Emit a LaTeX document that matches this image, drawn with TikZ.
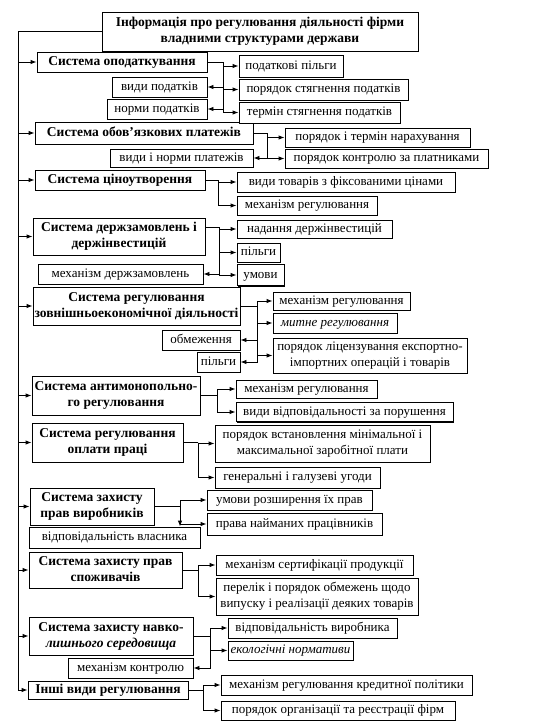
\documentclass[tikz,border=0pt]{standalone}
\usepackage{fontspec}
\setmainfont{Liberation Serif}
\usetikzlibrary{arrows.meta, shadows}

\begin{document}
\begin{tikzpicture}[
  x=1pt, y=-1pt,
  sz/.style 2 args={minimum width=#1pt, minimum height=#2pt},
  box/.style={rectangle, draw=black, line width=0.9pt, fill=white,
             inner sep=1pt, align=center, text height=8pt, text depth=2pt,
             font=\fontsize{13}{15.5}\selectfont,
             drop shadow={shadow xshift=1.2pt, shadow yshift=-1.2pt, fill=black, opacity=1}},
  sysbox/.style={box, font=\bfseries\fontsize{13.5}{16}\selectfont},
  itembox/.style={box},
  systwo/.style={sysbox, text height=24pt},
  itemtwo/.style={itembox, text height=23.5pt},
  link/.style={line width=0.9pt},
  arr/.style={link, -{Latex[length=6pt, width=4.5pt]}}
]
\fill[white] (0,0) rectangle (533,724);
\useasboundingbox (0,0) rectangle (533,724);

% main box and the systems
\node[systwo, sz={316}{39}] (title) at (260,31.5)
  {Інформація про регулювання діяльності фірми\\владними структурами держави};
\node[sysbox, sz={170}{20}] (s1) at (122,62) {Система оподаткування};
\node[sysbox, sz={218}{22}] (s2) at (144,133) {Система обов’язкових платежів};
\node[sysbox, sz={170}{20}] (s3) at (120,180) {Система ціноутворення};
\node[systwo, sz={172}{37}] (s4) at (119,236.5) {Система держзамовлень і\\держінвестицій};
\node[systwo, sz={207}{38}] (s5) at (136.5,306) {Система регулювання\\зовнішньоекономічної діяльності};
\node[systwo, sz={168}{39}] (s6) at (116,395.5) {Система антимонопольно-\\го регулювання};
\node[systwo, sz={151}{39}] (s7) at (107.5,442.5) {Система регулювання\\оплати праці};
\node[systwo, sz={124}{37}] (s8) at (92,506.5) {Система захисту\\прав виробників};
\node[systwo, sz={153}{36}] (s9) at (105.5,570) {Система захисту прав\\споживачів};
\node[systwo, sz={164}{38}] (s10) at (111,636) {Система захисту навко-\\\textit{лишнього середовища}};
\node[sysbox, sz={160}{18}] (s11) at (108,690) {Інші види регулювання};

% spine on the left
\coordinate (spine) at (18,0);
\draw[link] (title.west) -| (spine |- s11.west);
\foreach \s in {s1,s2,s3,s4,s5,s6,s7,s8,s9,s10,s11}
  \draw[arr] (spine |- \s.west) -- (\s.west);

% taxes
\node[itembox, sz={104}{22}] (tax1) at (291,66) {податкові пільги};
\node[itembox, sz={169}{21}] (tax2) at (323.5,89.5) {порядок стягнення податків};
\node[itembox, sz={161}{21}] (tax3) at (319.5,112.5) {термін стягнення податків};
\node[itembox, sz={95}{20}] (tax4) at (159.5,87) {види податків};
\node[itembox, sz={100}{20}] (tax5) at (157,109) {норми податків};
\coordinate (j1) at (223,62);
\draw[link] (s1.east) -- (j1);
\foreach \t in {tax1,tax2,tax3} \draw[arr] (j1) |- (\t.west);
\foreach \t in {tax4,tax5} \draw[arr] (j1) |- (\t.east);

% payments
\node[itembox, sz={185}{19}] (pay1) at (377.5,137.5) {порядок і термін нарахування};
\node[itembox, sz={203}{19}] (pay2) at (386.5,158.5) {порядок контролю за платниками};
\node[itembox, sz={143}{18}] (pay3) at (181.5,158) {види і норми платежів};
\coordinate (j2) at (267,133);
\draw[link] (s2.east) -- (j2);
\foreach \t in {pay1,pay2} \draw[arr] (j2) |- (\t.west);
\draw[arr] (j2) |- (pay3.east);

% prices
\node[itembox, sz={218}{20}] (pr1) at (346,182) {види товарів з фіксованими цінами};
\node[itembox, sz={140}{19}] (pr2) at (307,205.5) {механізм регулювання};
\coordinate (j3) at (218,180);
\draw[link] (s3.east) -- (j3);
\foreach \t in {pr1,pr2} \draw[arr] (j3) |- (\t.west);

% state orders
\node[itembox, sz={155}{18}] (ord1) at (314.5,229) {надання держінвестицій};
\node[itembox, sz={43}{19}] (ord2) at (258.5,252.5) {пільги};
\node[itembox, sz={47}{21}] (ord3) at (260.5,275) {умови};
\node[itembox, sz={165}{20}] (ord4) at (120.5,274) {механізм держзамовлень};
\coordinate (j4) at (219,227);
\draw[link] (s4.east |- j4) -- (j4);
\foreach \t in {ord1,ord2,ord3} \draw[arr] (j4) |- (\t.west);
\draw[arr] (j4) |- (ord4.east);

% foreign trade
\node[itembox, sz={137}{18}] (fe1) at (341.5,301) {механізм регулювання};
\node[itembox, sz={124}{20}] (fe2) at (335,323) {\textit{митне регулювання}};
\node[itemtwo, sz={194}{35}] (fe3) at (370,355.5) {порядок ліцензування експортно-\\імпортних операцій і товарів};
\node[itembox, sz={78}{20}] (fe4) at (201,340) {обмеження};
\node[itembox, sz={43}{20}] (fe5) at (218.5,362) {пільги};
\coordinate (j5) at (257,306);
\draw[link] (s5.east) -- (j5);
\foreach \t in {fe1,fe2,fe3} \draw[arr] (j5) |- (\t.west);
\foreach \t in {fe4,fe5} \draw[arr] (j5) |- (\t.east);

% antimonopoly
\node[itembox, sz={141}{18}] (am1) at (306.5,389) {механізм регулювання};
\node[itembox, sz={217}{19}] (am2) at (344.5,412) {види відповідальності за порушення};
\coordinate (j6) at (217,395.5);
\draw[link] (s6.east) -- (j6);
\foreach \t in {am1,am2} \draw[arr] (j6) |- (\t.west);

% wages
\node[itemtwo, sz={215}{37}] (wg1) at (322.5,443.5) {порядок встановлення мінімальної і\\максимальної заробітної плати};
\node[itembox, sz={165}{21}] (wg2) at (297.5,477.5) {генеральні і галузеві угоди};
\coordinate (j7) at (198,442.5);
\draw[link] (s7.east) -- (j7);
\foreach \t in {wg1,wg2} \draw[arr] (j7) |- (\t.west);

% producers
\node[itembox, sz={165}{20}] (pd1) at (289.5,500) {умови розширення їх прав};
\node[itembox, sz={175}{22}] (pd2) at (294.5,524) {права найманих працівників};
\node[itembox, sz={171}{21}] (pd3) at (114.5,537.5) {відповідальність власника};
\coordinate (j8) at (180,506.5);
\draw[link] (s8.east) -- (j8);
\foreach \t in {pd1,pd2} \draw[arr] (j8) |- (\t.west);
\draw[arr] (j8) -- (j8 |- pd3.north);

% consumers
\node[itembox, sz={197}{20}] (cn1) at (314.5,565) {механізм сертифікації продукції};
\node[itemtwo, sz={202}{37}] (cn2) at (317,596.5) {перелік і порядок обмежень щодо\\випуску і реалізації деяких товарів};
\coordinate (j9) at (198,570);
\draw[link] (s9.east) -- (j9);
\foreach \t in {cn1,cn2} \draw[arr] (j9) |- (\t.west);

% environment
\node[itembox, sz={169}{20}] (en1) at (312.5,628) {відповідальність виробника};
\node[itembox, sz={125}{19}] (en2) at (290.5,650.5) {\textit{екологічні нормативи}};
\node[itembox, sz={125}{20}] (en3) at (130.5,668) {механізм контролю};
\coordinate (j10) at (210,636);
\draw[link] (s10.east) -- (j10);
\foreach \t in {en1,en2} \draw[arr] (j10) |- (\t.west);
\draw[arr] (j10) |- (en3.east);

% other
\node[itembox, sz={251}{20}] (ot1) at (346.5,685) {механізм регулювання кредитної політики};
\node[itembox, sz={234}{19}] (ot2) at (338,710.5) {порядок організації та реєстрації фірм};
\coordinate (j11) at (203,690);
\draw[link] (s11.east) -- (j11);
\foreach \t in {ot1,ot2} \draw[arr] (j11) |- (\t.west);
\end{tikzpicture}
\end{document}
